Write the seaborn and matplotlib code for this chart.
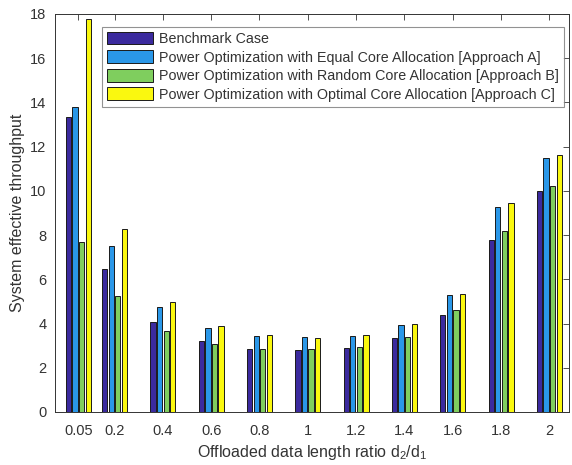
import pandas as pd
import matplotlib
matplotlib.use('Agg')
import matplotlib.pyplot as plt
import seaborn as sns
import numpy as np

# Data
ratios = [0.05, 0.2, 0.4, 0.6, 0.8, 1.0, 1.2, 1.4, 1.6, 1.8, 2.0]
tick_labels = ['0.05', '0.2', '0.4', '0.6', '0.8', '1', '1.2', '1.4', '1.6', '1.8', '2']
benchmark = [13.33, 6.48, 4.07, 3.22, 2.86, 2.80, 2.89, 3.33, 4.38, 7.77, 10.0]
approach_a = [13.78, 7.49, 4.76, 3.82, 3.43, 3.39, 3.43, 3.93, 5.30, 9.29, 11.49]
approach_b = [7.68, 5.23, 3.68, 3.07, 2.83, 2.83, 2.93, 3.38, 4.60, 8.18, 10.21]
approach_c = [17.77, 8.27, 4.96, 3.89, 3.46, 3.36, 3.46, 3.96, 5.33, 9.44, 11.63]

series_names = ['Benchmark Case',
                'Power Optimization with Equal Core Allocation [Approach A]',
                'Power Optimization with Random Core Allocation [Approach B]',
                'Power Optimization with Optimal Core Allocation [Approach C]']
colors = ['#3B2A9E', '#2A97E8', '#7FCE5E', '#FAF80F']

rows = []
for name, vals in zip(series_names, [benchmark, approach_a, approach_b, approach_c]):
    for r, v in zip(ratios, vals):
        rows.append({'ratio': r, 'value': v, 'series': name})
df = pd.DataFrame(rows)

sns.set_style('white')
plt.rcParams['font.family'] = ['Liberation Sans', 'DejaVu Sans']
plt.rcParams['mathtext.default'] = 'regular'

fig = plt.figure(figsize=(5.72, 4.65), dpi=100)
ax = fig.add_axes([0.096, 0.114, 0.899, 0.856])

sns.barplot(data=df, x='ratio', y='value', hue='series', hue_order=series_names,
            palette=colors, saturation=1, native_scale=True, width=0.727, gap=0.2,
            errorbar=None, edgecolor='#1a1a1a', linewidth=0.7, ax=ax)

ax.set_xlim(-0.047, 2.082)
ax.set_ylim(0, 18)
ax.set_xticks(ratios)
ax.set_xticklabels(tick_labels)
ax.set_yticks(np.arange(0, 19, 2))

text_color = '#333333'
ax.tick_params(direction='in', length=4, width=0.6, colors=text_color,
               labelsize=10.5, top=True, right=True)
ax.tick_params(axis='x', pad=9)
ax.tick_params(axis='y', pad=6)
for s in ax.spines.values():
    s.set_color(text_color)
    s.set_linewidth(0.7)
    s.set_visible(True)

ax.set_xlabel('Offloaded data length ratio d$_2$/d$_1$', fontsize=11.5, color=text_color, labelpad=3)
ax.set_ylabel('System effective throughput', fontsize=11.5, color=text_color, labelpad=4)

leg = ax.legend(loc='upper left', bbox_to_anchor=(0.091, 0.968), fontsize=10.3,
                frameon=True, fancybox=False, handlelength=3.25, handleheight=1.0,
                labelspacing=0.3, handletextpad=0.4, borderpad=0.35, borderaxespad=0)
leg.get_frame().set_edgecolor('#777777')
leg.get_frame().set_linewidth(0.8)
for t in leg.get_texts():
    t.set_color(text_color)

fig.savefig('out.png', dpi=100)
